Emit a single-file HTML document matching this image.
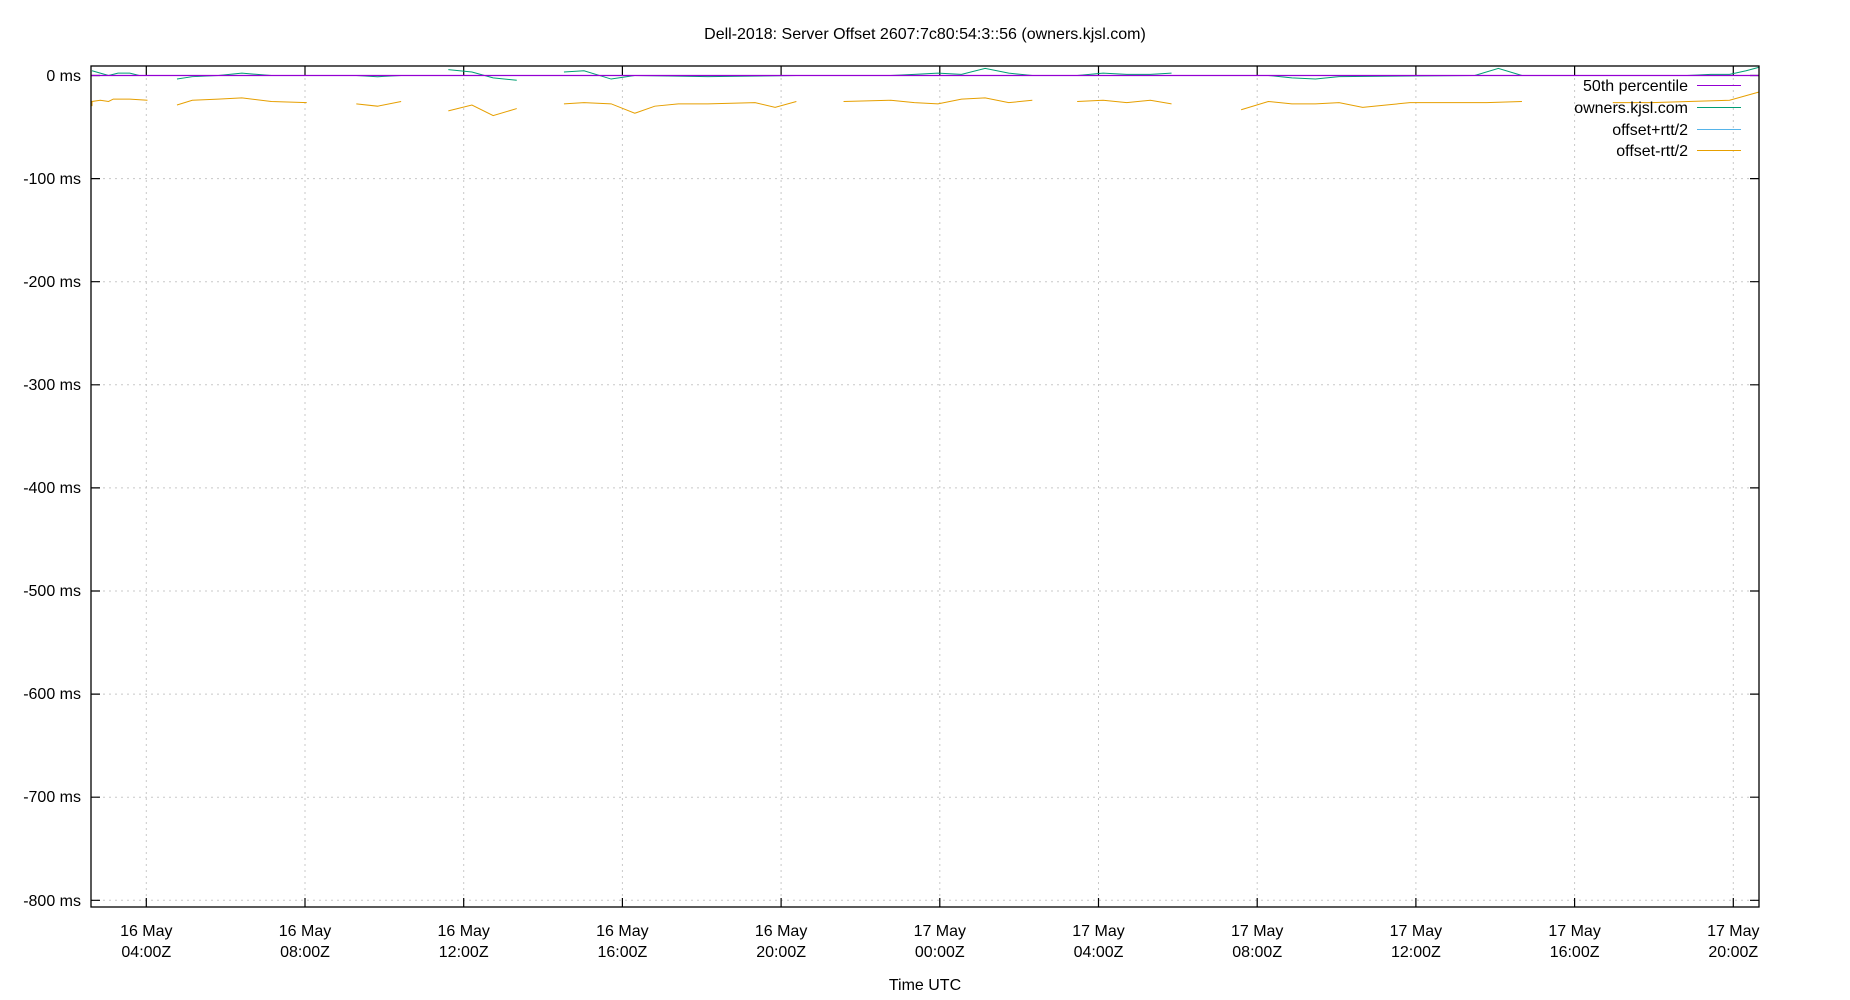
<!DOCTYPE html>
<html><head><meta charset="utf-8"><style>
html,body{margin:0;padding:0;background:#fff;}
svg{display:block;font-family:"Liberation Sans","DejaVu Sans",sans-serif;}
</style></head><body>
<svg width="1850" height="1000" viewBox="0 0 1850 1000" xmlns="http://www.w3.org/2000/svg">
<rect width="1850" height="1000" fill="#fff"/>
<text x="925" y="39" font-size="16" text-anchor="middle" fill="#000">Dell-2018: Server Offset 2607:7c80:54:3::56 (owners.kjsl.com)</text>
<g stroke="#c8c8c8" stroke-width="1" stroke-dasharray="2,4">
<line x1="91" x2="1759" y1="178.6" y2="178.6"/><line x1="91" x2="1759" y1="281.7" y2="281.7"/>
<line x1="91" x2="1759" y1="384.8" y2="384.8"/><line x1="91" x2="1759" y1="487.9" y2="487.9"/>
<line x1="91" x2="1759" y1="591" y2="591"/><line x1="91" x2="1759" y1="694.1" y2="694.1"/>
<line x1="91" x2="1759" y1="797.2" y2="797.2"/><line x1="91" x2="1759" y1="900.3" y2="900.3"/>
<line y1="66" y2="907" x1="146.3" x2="146.3"/><line y1="66" y2="907" x1="305" x2="305"/>
<line y1="66" y2="907" x1="463.7" x2="463.7"/><line y1="66" y2="907" x1="622.4" x2="622.4"/>
<line y1="66" y2="907" x1="781.1" x2="781.1"/><line y1="66" y2="907" x1="939.8" x2="939.8"/>
<line y1="66" y2="907" x1="1098.5" x2="1098.5"/><line y1="66" y2="907" x1="1257.2" x2="1257.2"/>
<line y1="66" y2="907" x1="1415.9" x2="1415.9"/><line y1="66" y2="907" x1="1574.6" x2="1574.6"/>
<line y1="66" y2="907" x1="1733.3" x2="1733.3"/>
</g>
<g stroke="#000" stroke-width="1.2">
<path d="M91,75.5h9M91,178.6h9M91,281.7h9M91,384.8h9M91,487.9h9M91,591h9M91,694.1h9M91,797.2h9M91,900.3h9"/>
<path d="M1759,75.5h-9M1759,178.6h-9M1759,281.7h-9M1759,384.8h-9M1759,487.9h-9M1759,591h-9M1759,694.1h-9M1759,797.2h-9M1759,900.3h-9"/>
<path d="M146.3,907v-9M305,907v-9M463.7,907v-9M622.4,907v-9M781.1,907v-9M939.8,907v-9M1098.5,907v-9M1257.2,907v-9M1415.9,907v-9M1574.6,907v-9M1733.3,907v-9"/>
<path d="M146.3,66v9M305,66v9M463.7,66v9M622.4,66v9M781.1,66v9M939.8,66v9M1098.5,66v9M1257.2,66v9M1415.9,66v9M1574.6,66v9M1733.3,66v9"/>
</g>
<g font-size="16" text-anchor="end" fill="#000">
<text x="81" y="81">0 ms</text><text x="81" y="184">-100 ms</text><text x="81" y="287">-200 ms</text>
<text x="81" y="390">-300 ms</text><text x="81" y="493">-400 ms</text><text x="81" y="596">-500 ms</text>
<text x="81" y="699">-600 ms</text><text x="81" y="802">-700 ms</text><text x="81" y="906">-800 ms</text>
</g>
<g font-size="16" text-anchor="middle" fill="#000">
<text x="146.3" y="936">16 May</text><text x="146.3" y="957">04:00Z</text>
<text x="305" y="936">16 May</text><text x="305" y="957">08:00Z</text>
<text x="463.7" y="936">16 May</text><text x="463.7" y="957">12:00Z</text>
<text x="622.4" y="936">16 May</text><text x="622.4" y="957">16:00Z</text>
<text x="781.1" y="936">16 May</text><text x="781.1" y="957">20:00Z</text>
<text x="939.8" y="936">17 May</text><text x="939.8" y="957">00:00Z</text>
<text x="1098.5" y="936">17 May</text><text x="1098.5" y="957">04:00Z</text>
<text x="1257.2" y="936">17 May</text><text x="1257.2" y="957">08:00Z</text>
<text x="1415.9" y="936">17 May</text><text x="1415.9" y="957">12:00Z</text>
<text x="1574.6" y="936">17 May</text><text x="1574.6" y="957">16:00Z</text>
<text x="1733.3" y="936">17 May</text><text x="1733.3" y="957">20:00Z</text>
<text x="925" y="990">Time UTC</text>
</g>
<g transform="scale(1.1798)" fill="none" stroke-width="1">
<g stroke="#e69f00">
<polyline vector-effect="non-scaling-stroke" points="78,90 78,86 85,85 92,86 96,84 104,84 110,84 125,85"/>
<polyline vector-effect="non-scaling-stroke" points="150,89 163,85 185,84 205,83 230,86 260,87"/>
<polyline vector-effect="non-scaling-stroke" points="302,88 320,90 340,86"/>
<polyline vector-effect="non-scaling-stroke" points="380,94 400,89 418,98 438,92"/>
<polyline vector-effect="non-scaling-stroke" points="478,88 495,87 518,88 538,96 555,90 575,88 600,88 640,87 657,91 675,86"/>
<polyline vector-effect="non-scaling-stroke" points="715,86 755,85 775,87 795,88 815,84 835,83 855,87 875,85"/>
<polyline vector-effect="non-scaling-stroke" points="913,86 935,85 955,87 975,85 993,88"/>
<polyline vector-effect="non-scaling-stroke" points="1052,93 1075,86 1095,88 1115,88 1135,87 1155,91 1175,89 1195,87 1225,87 1260,87 1290,86"/>
<polyline vector-effect="non-scaling-stroke" points="1367,87 1400,87 1466,85 1491,78"/>
</g>
<g stroke="#009e73">
<polyline vector-effect="non-scaling-stroke" points="78,60 85,62 92,64 100,62 110,62 118,64"/>
<polyline vector-effect="non-scaling-stroke" points="150,67 163,65 185,64 205,62 230,64 260,64"/>
<polyline vector-effect="non-scaling-stroke" points="302,64 320,65 340,64"/>
<polyline vector-effect="non-scaling-stroke" points="380,59 400,61 418,66 438,68"/>
<polyline vector-effect="non-scaling-stroke" points="478,61 495,60 518,67 538,64 600,65 675,64"/>
<polyline vector-effect="non-scaling-stroke" points="715,64 755,64 775,63 795,62 815,63 835,58 855,62 875,64"/>
<polyline vector-effect="non-scaling-stroke" points="913,64 935,62 955,63 975,63 993,62"/>
<polyline vector-effect="non-scaling-stroke" points="1052,64 1075,64 1095,66 1115,67 1135,65 1250,64 1270,58 1290,64"/>
<polyline vector-effect="non-scaling-stroke" points="1367,64 1400,64 1430,64 1450,63 1466,63 1480,60 1491,57"/>
</g>
</g>
<line x1="91" x2="1759" y1="75.5" y2="75.5" stroke="#9400d3" stroke-width="1.3"/>
<rect x="91" y="66" width="1668" height="841" fill="none" stroke="#000" stroke-width="1.3"/>
<g font-size="16" text-anchor="end" fill="#000">
<text x="1688" y="91">50th percentile</text><text x="1688" y="113">owners.kjsl.com</text>
<text x="1688" y="135">offset+rtt/2</text><text x="1688" y="156">offset-rtt/2</text>
</g>
<line x1="1697" x2="1741" y1="85.5" y2="85.5" stroke="#9400d3"/>
<line x1="1697" x2="1741" y1="107.5" y2="107.5" stroke="#009e73"/>
<line x1="1697" x2="1741" y1="129.5" y2="129.5" stroke="#56b4e9"/>
<line x1="1697" x2="1741" y1="150.5" y2="150.5" stroke="#e69f00"/>
</svg>
</body></html>
